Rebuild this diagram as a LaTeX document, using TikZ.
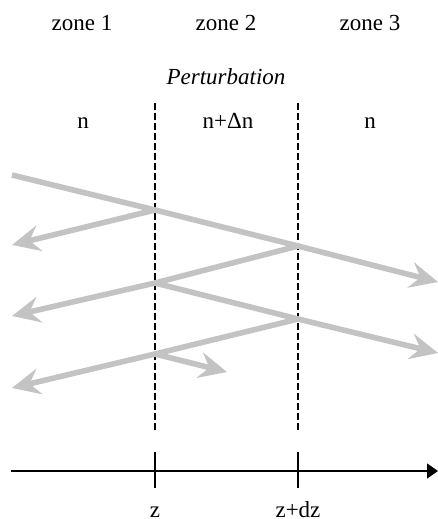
\documentclass[tikz,border=0pt]{standalone}
\usepackage{fontspec}
\setmainfont{Liberation Serif}
\usetikzlibrary{arrows.meta}
\definecolor{raygray}{RGB}{195,195,195}
\begin{document}
\begin{tikzpicture}[x=0.5pt,y=-0.5pt,
  lbl/.style={font=\fontsize{11.5}{13}\selectfont, inner sep=0pt, anchor=base},
  ray/.style={draw=raygray, line width=2.8pt, line join=miter,
    -{Stealth[length=14pt,width=13pt,inset=5pt]}},
  interface/.style={draw=black, line width=0.7pt, dash pattern=on 3.5pt off 1.5pt},
  axisline/.style={draw=black, line width=0.7pt, -{Triangle[length=5.5pt,width=7.5pt]}},
  tick/.style={draw=black, line width=0.6pt}]
\useasboundingbox (0,0) rectangle (438,519);
% labels
\node[lbl] (z1) at (82,31) {zone 1};
\node[lbl] (z2) at (226,31) {zone 2};
\node[lbl] (z3) at (370,31) {zone 3};
\node[lbl, font=\fontsize{11.5}{13}\selectfont\itshape] (pert) at (226,85) {Perturbation};
\node[lbl] (n1) at (83,128) {n};
\node[lbl] (n2) at (228,128) {n+Δn};
\node[lbl] (n3) at (370,128) {n};
% interfaces
\coordinate (d1t) at (155,103);
\coordinate (d1b) at (155,432);
\coordinate (d2t) at (298,103);
\coordinate (d2b) at (298,432);
\draw[interface] (d1t) -- (d1b);
\draw[interface] (d2t) -- (d2b);
% rays
\coordinate (s1) at (12,175);
\coordinate (p1) at (155,210);
\coordinate (p2) at (298,246);
\coordinate (e1) at (438,282);
\coordinate (e2) at (12,245);
\coordinate (p3) at (155,283);
\coordinate (e3) at (12,316);
\coordinate (p4) at (298,319);
\coordinate (e4) at (438,353);
\coordinate (p5) at (155,354);
\coordinate (e5) at (12,388);
\coordinate (e6) at (227,372);
\draw[ray] (s1) -- (p1) -- (p2) -- (e1);
\draw[ray] (p1) -- (e2);
\draw[ray] (p2) -- (p3) -- (e3);
\draw[ray] (p3) -- (p4) -- (e4);
\draw[ray] (p4) -- (p5) -- (e5);
\draw[ray] (p5) -- (e6);
% axis
\coordinate (a0) at (11,471);
\coordinate (a1) at (438,471);
\draw[axisline] (a0) -- (a1);
\coordinate (t1a) at (155,452);
\coordinate (t1b) at (155,488);
\coordinate (t2a) at (298,452);
\coordinate (t2b) at (298,488);
\draw[tick] (t1a) -- (t1b);
\draw[tick] (t2a) -- (t2b);
\node[lbl] (zl) at (155,517) {z};
\node[lbl] (zdz) at (298,517) {z+dz};
\end{tikzpicture}
\end{document}
